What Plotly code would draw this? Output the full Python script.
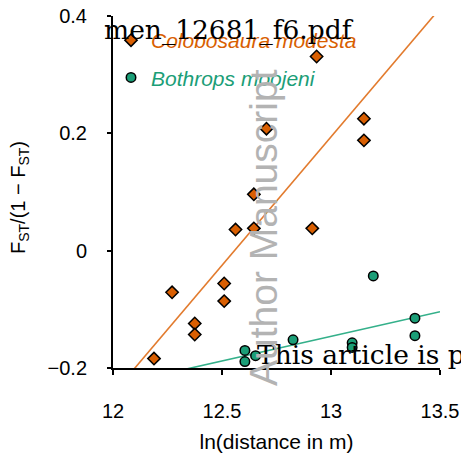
import plotly.graph_objects as go

# Colobosaura modesta (orange diamonds)
col_x = [12.934, 12.704, 13.151, 13.151, 12.646, 12.562, 12.646, 12.914,
         12.271, 12.510, 12.510, 12.375, 12.375, 12.188]
col_y = [0.331, 0.208, 0.225, 0.188, 0.096, 0.036, 0.038, 0.038,
         -0.071, -0.056, -0.086, -0.124, -0.143, -0.184]

# Bothrops moojeni (green circles)
bot_x = [13.194, 13.385, 13.385, 12.826, 13.097, 13.097, 12.605, 12.605, 12.654]
bot_y = [-0.043, -0.115, -0.145, -0.152, -0.157, -0.165, -0.170, -0.189, -0.179]

# regression lines (endpoints over the x range)
col_line_x = [12.0, 13.5]
col_line_y = [-0.244, 0.413]
bot_line_x = [12.0, 13.5]
bot_line_y = [-0.230, -0.104]

x_ticks = [12, 12.5, 13, 13.5]
x_ticktext = ["12", "12.5", "13", "13.5"]
y_ticks = [-0.2, 0, 0.2, 0.4]
y_ticktext = ["\u22120.2", "0", "0.2", "0.4"]

ORANGE = "#d95f02"
GREEN = "#1b9e77"
FONT = "Liberation Sans, Arial, sans-serif"

W, H = 461, 457
ML, MR, MT, MB = 113, 21, 16, 89
PW, PH = W - ML - MR, H - MT - MB


def px2paper(px, py):
    return (px - ML) / PW, (H - MB - py) / PH


fig = go.Figure()
fig.add_trace(go.Scatter(x=col_line_x, y=col_line_y, mode="lines",
                         line=dict(color="#e27b2e", width=1.6),
                         showlegend=False, hoverinfo="skip"))
fig.add_trace(go.Scatter(x=bot_line_x, y=bot_line_y, mode="lines",
                         line=dict(color="#34b08a", width=1.6),
                         showlegend=False, hoverinfo="skip"))
fig.add_trace(go.Scatter(
    x=col_x, y=col_y, mode="markers",
    name="<i><span style='color:%s'>Colobosaura modesta</span></i>" % ORANGE,
    legendgroup="a",
    marker=dict(symbol="diamond", size=9.5, color=ORANGE,
                line=dict(color="black", width=1.5)),
    cliponaxis=False))
fig.add_trace(go.Scatter(
    x=bot_x, y=bot_y, mode="markers",
    name="<i><span style='color:%s'>Bothrops moojeni</span></i>" % GREEN,
    legendgroup="b",
    marker=dict(symbol="circle", size=9.5, color=GREEN,
                line=dict(color="black", width=1.5)),
    cliponaxis=False))

lx, ly = px2paper(111, 20)
yt_x, yt_y = px2paper(19, 198)
wm1_x, wm1_y = px2paper(102, 30)
wm2_x, wm2_y = px2paper(255, 354)
wm3_x, wm3_y = px2paper(263, 228)

fig.update_layout(
    width=W, height=H,
    margin=dict(l=ML, r=MR, t=MT, b=MB, autoexpand=False),
    paper_bgcolor="white", plot_bgcolor="white",
    font=dict(family=FONT, size=20, color="black"),
    showlegend=True,
    legend=dict(x=lx, y=ly, xanchor="left", yanchor="top",
                bgcolor="rgba(0,0,0,0)", font=dict(size=21),
                traceorder="grouped", tracegroupgap=7),
    xaxis=dict(range=[12, 13.5], tickvals=x_ticks, ticktext=x_ticktext,
               showgrid=False, zeroline=False, showline=True,
               linecolor="black", linewidth=2, ticks="outside", ticklen=5,
               tickwidth=2, tickcolor="black", ticklabelstandoff=19,
               automargin=False,
               title=dict(text="ln(distance in m)", font=dict(size=21),
                          standoff=13)),
    yaxis=dict(range=[-0.2, 0.4], tickvals=y_ticks, ticktext=y_ticktext,
               showgrid=False, zeroline=False, showline=True,
               linecolor="black", linewidth=2, ticks="outside", ticklen=4,
               tickwidth=2, tickcolor="black", ticklabelstandoff=16,
               automargin=False),
    annotations=[
        dict(text="F<sub>ST</sub>/(1 \u2212 F<sub>ST</sub>)", textangle=-90,
             xref="paper", yref="paper", x=yt_x, y=yt_y,
             xanchor="center", yanchor="middle", showarrow=False,
             font=dict(size=20, family=FONT)),
        dict(text="men_12681_f6.pdf", xref="paper", yref="paper",
             x=wm1_x, y=wm1_y, xanchor="left", yanchor="middle",
             showarrow=False,
             font=dict(size=26.5, family="DejaVu Serif", color="black")),
        dict(text="This article is protected by copyright.", xref="paper",
             yref="paper", x=wm2_x, y=wm2_y, xanchor="left",
             yanchor="middle", showarrow=False,
             font=dict(size=26.5, family="DejaVu Serif", color="black")),
        dict(text="Author Manuscript", textangle=-90, xref="paper",
             yref="paper", x=wm3_x, y=wm3_y, xanchor="center",
             yanchor="middle", showarrow=False,
             font=dict(size=39, family=FONT, color="#b3b3b3")),
    ],
)

fig.write_html("out.html")
